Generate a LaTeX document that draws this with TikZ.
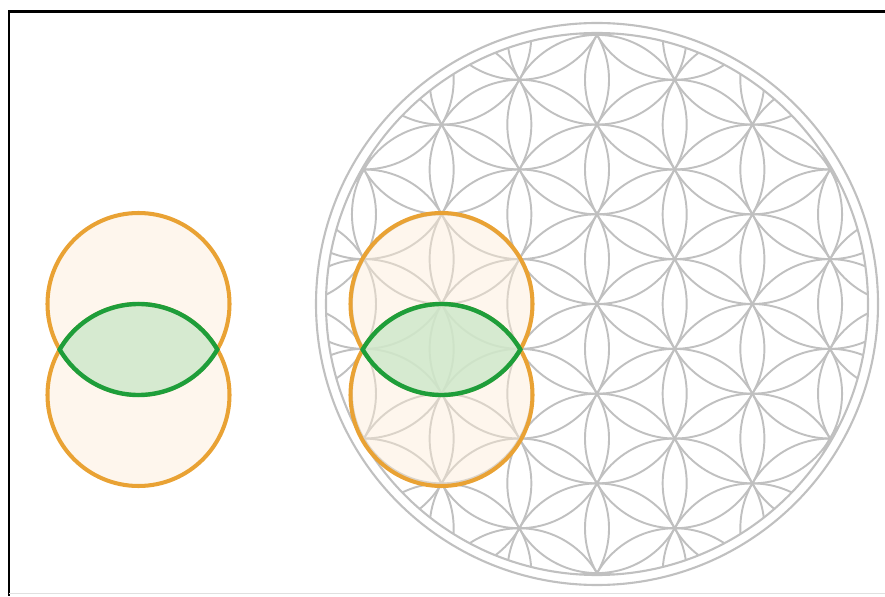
\documentclass[tikz,border=0pt]{standalone}
\usepackage{tikz}

\definecolor{flowergray}{RGB}{192,192,192}
\definecolor{seedorange}{RGB}{233,162,52}
\definecolor{seedfill}{RGB}{252,236,214}
\definecolor{vesicafill}{RGB}{188,230,196}
\definecolor{vesicagreen}{RGB}{30,158,58}

\begin{document}
\begin{tikzpicture}[
        petal/.style={draw=flowergray, line width=1.1pt},
        ring/.style={draw=flowergray, line width=1.2pt},
        seed/.style={draw=seedorange, line width=2.3pt, fill=seedfill, fill opacity=0.45},
        vesica/.style={draw=vesicagreen, line width=2.5pt, fill=vesicafill, fill opacity=0.6}
    ]
        \useasboundingbox (0,0) rectangle (17.7,11.92);

        % Frame (top and left edge only)
        \draw[line width=1.7pt] (17.7,11.68) -- (0.18,11.68) -- (0.18,0);
        \draw[black!12, line width=0.6pt] (0.18,0.05) -- (17.7,0.05);

        % Flower of life centre
        \coordinate (fc) at (11.94,5.84);

        % Grid of circles, clipped to the inner ring
        \begin{scope}
            \clip (fc) circle[radius=5.42];
            \foreach \k in {-4,...,4}
                \foreach \j in {-6,...,6}
                    \draw[petal, shift={(fc)}] ({\k*1.5536},{(\j+0.5*\k)*1.794}) circle[radius=1.794];
        \end{scope}

        % Double ring
        \draw[ring] (fc) circle[radius=5.42];
        \draw[ring] (fc) circle[radius=5.62];

        % Two seed circles, left alone and right on the flower
        \coordinate (la) at (2.77,5.84);
        \coordinate (lb) at (2.77,4.02);
        \coordinate (ra) at (8.83,5.84);
        \coordinate (rb) at (8.83,4.02);

        \foreach \c in {la,lb,ra,rb}
            \draw[seed] (\c) circle[radius=1.82];

        % Vesica piscis (overlap of the two circles)
        \foreach \d in {lb,rb}
            \draw[vesica] ([shift={(150:1.82)}]\d) arc[start angle=150, end angle=30, radius=1.82]
                arc[start angle=-30, end angle=-150, radius=1.82] -- cycle;
    \end{tikzpicture}
\end{document}
